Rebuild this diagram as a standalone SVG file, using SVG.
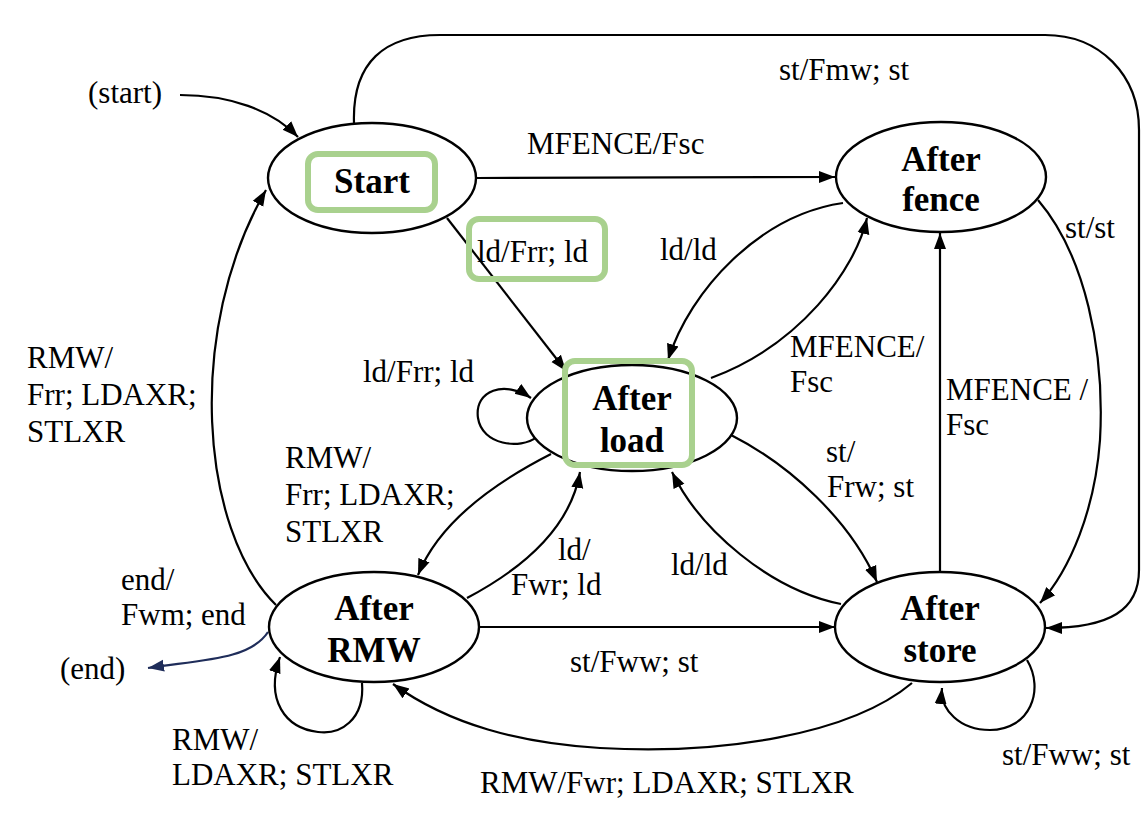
<svg xmlns="http://www.w3.org/2000/svg" width="1141" height="814" viewBox="0 0 1141 814">
<style>
.node ellipse{fill:#fff;stroke:#000;stroke-width:2.4}
.nl{font-family:'Liberation Serif','Times New Roman',Times,'DejaVu Serif',serif;font-weight:bold;font-size:35px;text-anchor:middle;fill:#000}
.lb{font-family:'Liberation Serif','Times New Roman',Times,'DejaVu Serif',serif;font-size:31px;fill:#000}
.e{fill:none;stroke:#000;stroke-width:2.2}
.hl{fill:none;stroke:#a9d18e;stroke-width:6}
</style>
<defs>
<marker id="ah" markerUnits="userSpaceOnUse" markerWidth="18" markerHeight="14" refX="16" refY="6" orient="auto" viewBox="0 0 18 12">
<path d="M0,0 L16,6 L0,12 Z" fill="#000"/>
</marker>
<marker id="ahb" markerUnits="userSpaceOnUse" markerWidth="18" markerHeight="14" refX="16" refY="6" orient="auto" viewBox="0 0 18 12">
<path d="M0,0 L16,6 L0,12 Z" fill="#1f2d5a"/>
</marker>
</defs>
<rect width="1141" height="814" fill="#fff"/>
<g id="connectors">
<path class="e" d="M180,95 C230,95 272,110 298,137" marker-end="url(#ah)"/>
<path class="e" d="M477,178 L835,177" marker-end="url(#ah)"/>
<path class="e" d="M447,218 L566,371" marker-end="url(#ah)"/>
<path class="e" d="M354,123 C352,62 385,35 440,35 L1045,35 C1100,35 1139,75 1139,130 L1139,570 C1139,610 1110,628 1046,628" marker-end="url(#ah)"/>
<path class="e" d="M1038,200 C1085,255 1105,350 1100,440 C1095,510 1070,570 1040,603" marker-end="url(#ah)"/>
<path class="e" d="M940,572 L940,233" marker-end="url(#ah)"/>
<path class="e" d="M711,378 C800,345 855,270 867,218" marker-end="url(#ah)"/>
<path class="e" d="M843,203 C760,215 690,290 668,360" marker-end="url(#ah)"/>
<path class="e" d="M537,437 C520,450 482,445 478,418 C474,390 505,380 531,398" marker-end="url(#ah)"/>
<path class="e" d="M551,454 C500,480 440,520 418,575" marker-end="url(#ah)"/>
<path class="e" d="M467,598 C520,570 570,530 580,472" marker-end="url(#ah)"/>
<path class="e" d="M731,435 C790,465 850,520 877,582" marker-end="url(#ah)"/>
<path class="e" d="M841,604 C770,590 700,530 672,472" marker-end="url(#ah)"/>
<path class="e" d="M479,627 L835,627" marker-end="url(#ah)"/>
<path class="e" d="M912,683 C850,735 720,755 600,748 C520,743 450,725 393,684" marker-end="url(#ah)"/>
<path class="e" d="M276,605 C200,530 185,330 266,190" marker-end="url(#ah)"/>
<path class="e" d="M362,683 C365,720 340,735 318,732 C285,728 265,700 280,657" marker-end="url(#ah)"/>
<path class="e" d="M1027,660 C1045,690 1030,730 990,730 C960,730 940,710 942,688" marker-end="url(#ah)"/>
<path d="M268,632 C250,660 200,660 148,668" fill="none" stroke="#1f2d5a" stroke-width="2.2" marker-end="url(#ahb)"/>
</g>
<g id="labels">
<text class="lb" x="88" y="103">(start)</text>
<text class="lb" x="779" y="80">st/Fmw; st</text>
<text class="lb" x="527" y="154">MFENCE/Fsc</text>
<text class="lb" x="477" y="262">ld/Frr; ld</text>
<text class="lb" x="660" y="260">ld/ld</text>
<text class="lb" x="1065" y="238">st/st</text>
<text class="lb" x="790" y="357">MFENCE/</text>
<text class="lb" x="790" y="392">Fsc</text>
<text class="lb" x="946" y="400">MFENCE /</text>
<text class="lb" x="946" y="435">Fsc</text>
<text class="lb" x="363" y="382">ld/Frr; ld</text>
<text class="lb" x="27" y="368">RMW/</text>
<text class="lb" x="27" y="405">Frr; LDAXR;</text>
<text class="lb" x="27" y="442">STLXR</text>
<text class="lb" x="285" y="468">RMW/</text>
<text class="lb" x="285" y="505">Frr; LDAXR;</text>
<text class="lb" x="285" y="542">STLXR</text>
<text class="lb" x="558" y="560">ld/</text>
<text class="lb" x="511" y="595">Fwr; ld</text>
<text class="lb" x="826" y="462">st/</text>
<text class="lb" x="827" y="497">Frw; st</text>
<text class="lb" x="671" y="575">ld/ld</text>
<text class="lb" x="121" y="590">end/</text>
<text class="lb" x="121" y="625">Fwm; end</text>
<text class="lb" x="60" y="679">(end)</text>
<text class="lb" x="570" y="672">st/Fww; st</text>
<text class="lb" x="172" y="750">RMW/</text>
<text class="lb" x="172" y="785">LDAXR; STLXR</text>
<text class="lb" x="480" y="793">RMW/Fwr; LDAXR; STLXR</text>
<text class="lb" x="1002" y="765">st/Fww; st</text>
</g>
<g id="start">
<g class="node"><ellipse cx="372" cy="178" rx="104" ry="55"/></g>
<text class="nl" x="372" y="193">Start</text>
</g>
<g id="after-fence">
<g class="node"><ellipse cx="941" cy="177" rx="105" ry="55"/></g>
<text class="nl" x="941" y="171">After</text>
<text class="nl" x="941" y="211">fence</text>
</g>
<g id="after-load">
<g class="node"><ellipse cx="632" cy="418" rx="105" ry="53"/></g>
<text class="nl" x="632" y="410">After</text>
<text class="nl" x="632" y="452">load</text>
</g>
<g id="after-rmw">
<g class="node"><ellipse cx="374" cy="627" rx="105" ry="55"/></g>
<text class="nl" x="374" y="620">After</text>
<text class="nl" x="374" y="662">RMW</text>
</g>
<g id="after-store">
<g class="node"><ellipse cx="940" cy="627" rx="105" ry="55"/></g>
<text class="nl" x="940" y="620">After</text>
<text class="nl" x="940" y="662">store</text>
</g>
<g id="highlights">
<rect class="hl" x="308" y="154" width="127" height="56" rx="10"/>
<rect class="hl" x="469" y="219" width="136" height="60" rx="10"/>
<rect class="hl" x="565" y="361" width="127" height="104" rx="10"/>
</g>
</svg>
